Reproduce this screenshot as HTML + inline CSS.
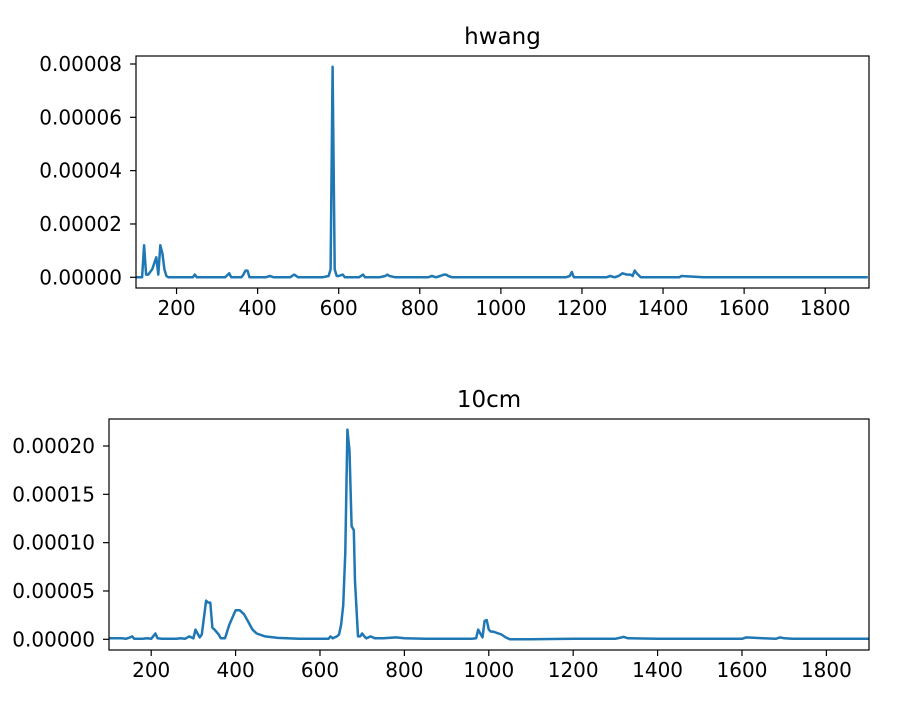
<!DOCTYPE html>
<html><head><meta charset="utf-8"><style>
body{margin:0;background:#fff}
svg text{font-family:"DejaVu Sans","Liberation Sans",sans-serif;fill:#000}
</style></head><body>
<svg id="fig" width="913" height="699" viewBox="0 0 913 699" xmlns="http://www.w3.org/2000/svg"></svg>
<script>
const topX=[100,115,120,125,130,140,150,155,160,165,170,175,180,200,240,245,250,320,330,335,360,365,370,375,380,420,430,440,480,490,500,560,575,580,585,590,595,600,610,615,620,650,660,665,700,715,720,725,740,820,830,840,850,860,865,870,880,1000,1160,1170,1175,1180,1260,1270,1280,1290,1300,1310,1320,1325,1330,1335,1345,1440,1445,1500,1905];
const topY=[0,0,1.2,0.1,0.1,0.3,0.75,0.1,1.2,0.9,0.3,0.05,0,0,0,0.1,0,0,0.15,0,0,0.1,0.25,0.25,0,0,0.05,0,0,0.1,0,0,0.05,0.3,7.9,0.3,0.05,0.05,0.1,0,0,0,0.1,0,0,0.05,0.1,0.05,0,0,0.05,0,0.05,0.1,0.1,0.05,0,0,0,0.05,0.2,0,0,0.05,0,0.05,0.15,0.1,0.1,0.05,0.25,0.15,0,0,0.05,0,0];
const topTicksX=[200,400,600,800,1000,1200,1400,1600,1800];
const topTicksY=[0,2,4,6,8];
const topTickLabelsY=["0.00000","0.00002","0.00004","0.00006","0.00008"];

const botX=[100,130,140,150,155,160,180,190,200,210,215,225,260,270,280,290,300,305,310,315,320,330,335,340,345,350,360,365,375,385,400,410,420,430,440,450,470,500,550,600,620,625,630,640,645,650,655,660,665,670,675,680,683,690,695,700,705,710,720,730,750,780,800,850,900,960,970,975,980,985,990,995,1000,1005,1010,1030,1040,1050,1100,1200,1300,1320,1330,1400,1550,1600,1610,1650,1680,1690,1700,1720,1750,1800,1850,1901];
const botY=[0.1,0.1,0.05,0.2,0.3,0.05,0.05,0.1,0.05,0.6,0.1,0.05,0.05,0.1,0.05,0.3,0.1,1.0,0.6,0.2,0.5,4.0,3.8,3.8,1.2,1.0,0.5,0.1,0.1,1.5,3.0,3.0,2.6,1.8,1.0,0.6,0.3,0.15,0.05,0.05,0.05,0.3,0.1,0.3,0.5,1.5,3.5,9,21.7,19.5,11.7,11.3,6,0.3,0.3,0.6,0.3,0.1,0.3,0.1,0.1,0.2,0.1,0.05,0.05,0.05,0.1,1.0,0.6,0.2,1.9,2.0,1.0,0.8,0.8,0.5,0.2,0,0,0.05,0.05,0.25,0.1,0.05,0.05,0.05,0.2,0.1,0.05,0.2,0.1,0.05,0.05,0.05,0.05,0.05];
const botTicksX=[200,400,600,800,1000,1200,1400,1600,1800];
const botTicksY=[0,5,10,15,20];
const botTickLabelsY=["0.00000","0.00005","0.00010","0.00015","0.00020"];

const NS="http://www.w3.org/2000/svg";
const svg=document.getElementById('fig');
function mk(tag,attrs,parent){const e=document.createElementNS(NS,tag);for(const k in attrs)e.setAttribute(k,attrs[k]);(parent||svg).appendChild(e);return e;}

function panel(p){
  const g=mk('g',{});
  
  
  const sx=v=>p.l+(v-p.x0)/(p.x1-p.x0)*(p.r-p.l);
  const sy=v=>p.y0px+(v-0)*(p.ytop-p.y0px)/p.ymaxv;
  let d='';
  p.xs.forEach((x,i)=>{d+=(i?'L':'M')+sx(x).toFixed(1)+','+sy(p.ys[i]).toFixed(1);});
  const line=mk('path',{d:d,fill:'none',stroke:'#1f77b4','stroke-width':2.5,'stroke-linejoin':'round'},g);
  
  
  const frame=mk('rect',{x:p.l,y:p.t,width:p.r-p.l,height:p.b-p.t,fill:'none',stroke:'#000','stroke-width':1.2},g);
  
  
  p.tx.forEach(v=>{
    const x=sx(v);
    mk('line',{x1:x,x2:x,y1:p.b,y2:p.b+6,stroke:'#000','stroke-width':1.2},g);
    const t=mk('text',{x:x,y:p.b+27,'text-anchor':'middle','font-size':20},g);
    t.textContent=v;
    
    
  });
  p.ty.forEach((v,i)=>{
    const y=sy(v);
    mk('line',{x1:p.l-6,x2:p.l,y1:y,y2:y,stroke:'#000','stroke-width':1.2},g);
    const t=mk('text',{x:p.l-14,y:y+7,'text-anchor':'end','font-size':20},g);
    t.textContent=p.tl[i];
    
    
  });
  const ti=mk('text',{x:(p.l+p.r)/2,y:p.t-12,'text-anchor':'middle','font-size':23},g);
  ti.textContent=p.title;
  
  
}
panel({name:'hwang',title:'hwang',l:136,r:869,t:56,b:288,x0:100,x1:1908,y0px:277.3,ytop:64,ymaxv:8,xs:topX,ys:topY,tx:topTicksX,ty:topTicksY,tl:topTickLabelsY});
panel({name:'10cm',title:'10cm',l:109,r:869,t:419,b:650,x0:100,x1:1901,y0px:639.3,ytop:446,ymaxv:20,xs:botX,ys:botY,tx:botTicksX,ty:botTicksY,tl:botTickLabelsY});
</script>
</body></html>
